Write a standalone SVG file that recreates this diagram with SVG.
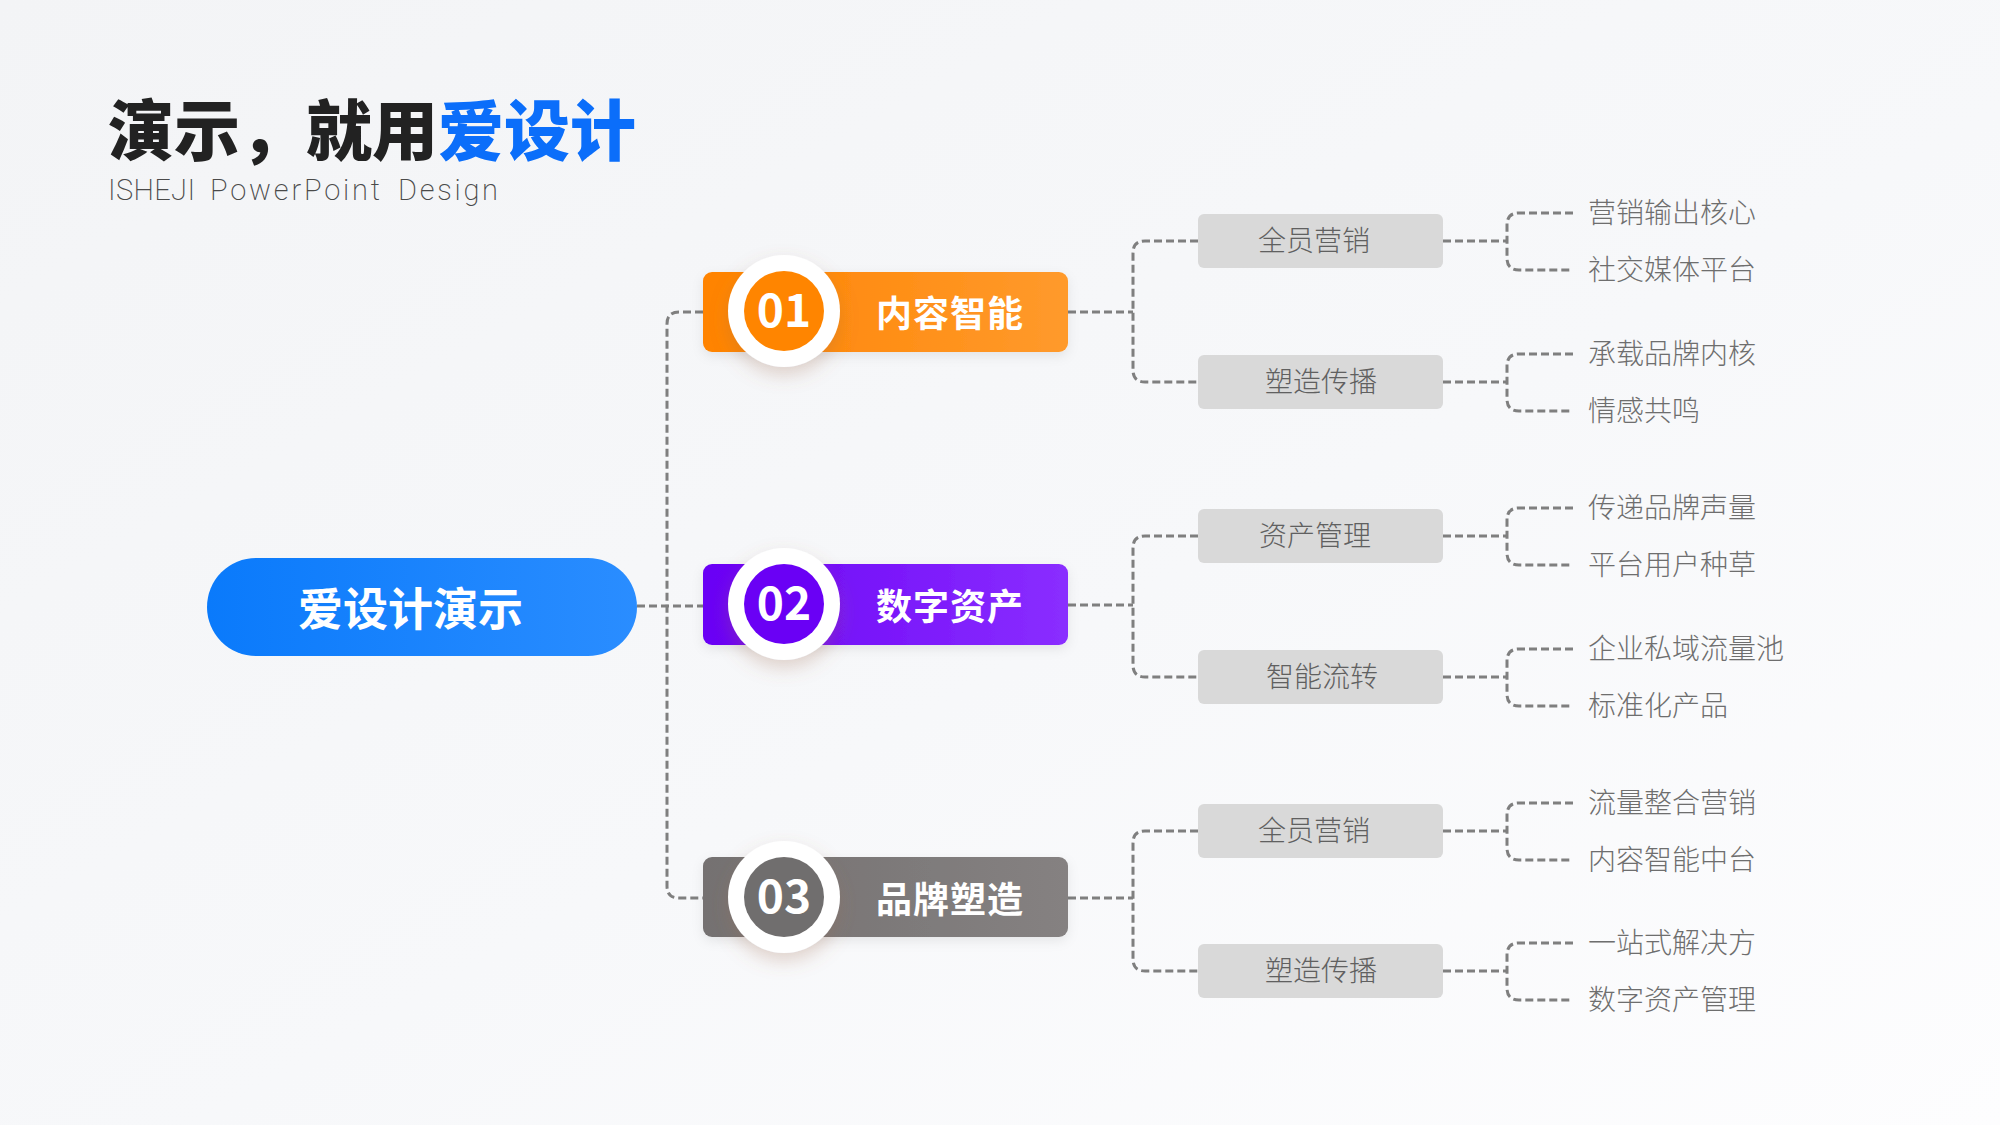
<svg xmlns="http://www.w3.org/2000/svg" width="2000" height="1125" viewBox="0 0 2000 1125">
  <defs>
    <linearGradient id="bg" x1="0" y1="0" x2="1" y2="1">
      <stop offset="0" stop-color="#F3F4F6"/>
      <stop offset="0.55" stop-color="#F7F8FA"/>
      <stop offset="1" stop-color="#FDFDFE"/>
    </linearGradient>
    <linearGradient id="gBlue" x1="0" y1="0" x2="1" y2="0">
      <stop offset="0" stop-color="#0A7AFB"/>
      <stop offset="1" stop-color="#2A8DFF"/>
    </linearGradient>
    <linearGradient id="gOrange" x1="0" y1="0" x2="1" y2="0">
      <stop offset="0" stop-color="#FF8300"/>
      <stop offset="1" stop-color="#FF9A2C"/>
    </linearGradient>
    <linearGradient id="gPurple" x1="0" y1="0" x2="1" y2="0">
      <stop offset="0" stop-color="#6A00F5"/>
      <stop offset="1" stop-color="#8A2EFF"/>
    </linearGradient>
    <linearGradient id="gGray" x1="0" y1="0" x2="1" y2="0">
      <stop offset="0" stop-color="#747171"/>
      <stop offset="1" stop-color="#858181"/>
    </linearGradient>
    <filter id="shadow" x="-50%" y="-50%" width="200%" height="200%">
      <feDropShadow dx="0" dy="8" stdDeviation="9" flood-color="#A07050" flood-opacity="0.28"/>
    </filter>
    <filter id="boxShadow" x="-20%" y="-50%" width="140%" height="200%">
      <feDropShadow dx="0" dy="4" stdDeviation="6" flood-color="#000000" flood-opacity="0.08"/>
    </filter>
  </defs>
  <style>
    .dash { fill: none; stroke: #7F7F7F; stroke-width: 3; stroke-dasharray: 8 4; }
    .cjk { font-family: "Noto Sans CJK SC", "Noto Sans", sans-serif; }
    .thin { font-family: "Noto Sans CJK SC Light", "Noto Sans CJK SC", "Noto Sans", sans-serif; }
    .title { font-size: 66px; font-weight: 900; }
    .sub { font-family: Roboto, "Liberation Sans", sans-serif; font-size: 29px; font-weight: 200; fill: #4A4A4A; }
    .rootText { font-size: 45px; font-weight: 700; fill: #FFFFFF; }
    .num { font-size: 46px; font-weight: 700; fill: #FFFFFF; text-anchor: middle; }
    .lbl { font-size: 36px; font-weight: 700; fill: #FFFFFF; letter-spacing: 1px; }
    .gbox { fill: #D9D9D9; }
    .gtxt { font-size: 28px; font-weight: 300; fill: #606060; }
    .leaf { font-size: 28px; font-weight: 300; fill: #6E6E6E; }
  </style>

  <rect x="0" y="0" width="2000" height="1125" fill="url(#bg)"/>

  <!-- Title -->
  <g id="title">
    <text class="cjk title" x="108" y="155"><tspan fill="#222222">演示，就用</tspan><tspan fill="#0B6EFA">爱设计</tspan></text>
    <text class="sub" y="200"><tspan x="108" textLength="87" lengthAdjust="spacing">ISHEJI</tspan><tspan x="210" textLength="170" lengthAdjust="spacing">PowerPoint</tspan><tspan x="398" textLength="100" lengthAdjust="spacing">Design</tspan></text>
  </g>

  <!-- Connectors -->
  <g id="connectors">
    <!-- root to level 1 -->
    <path class="dash" d="M637 606 H703"/>
    <path class="dash" d="M703 312 H679 Q667 312 667 324 V886 Q667 898 679 898 H703"/>
    <!-- level 1 to level 2 -->
    <path class="dash" d="M1068 312 H1133"/>
    <path class="dash" d="M1198 241 H1145 Q1133 241 1133 253 V370 Q1133 382 1145 382 H1198"/>
    <path class="dash" d="M1068 605 H1133"/>
    <path class="dash" d="M1198 536 H1145 Q1133 536 1133 548 V665 Q1133 677 1145 677 H1198"/>
    <path class="dash" d="M1068 898 H1133"/>
    <path class="dash" d="M1198 831 H1145 Q1133 831 1133 843 V959 Q1133 971 1145 971 H1198"/>
    <!-- level 2 to leaves -->
    <path class="dash" d="M1443 241 H1507"/>
    <path class="dash" d="M1573 213 H1519 Q1507 213 1507 225 V258 Q1507 270 1519 270 H1573"/>
    <path class="dash" d="M1443 382 H1507"/>
    <path class="dash" d="M1573 354 H1519 Q1507 354 1507 366 V399 Q1507 411 1519 411 H1573"/>
    <path class="dash" d="M1443 536 H1507"/>
    <path class="dash" d="M1573 508 H1519 Q1507 508 1507 520 V553 Q1507 565 1519 565 H1573"/>
    <path class="dash" d="M1443 677 H1507"/>
    <path class="dash" d="M1573 649 H1519 Q1507 649 1507 661 V694 Q1507 706 1519 706 H1573"/>
    <path class="dash" d="M1443 831 H1507"/>
    <path class="dash" d="M1573 803 H1519 Q1507 803 1507 815 V848 Q1507 860 1519 860 H1573"/>
    <path class="dash" d="M1443 971 H1507"/>
    <path class="dash" d="M1573 943 H1519 Q1507 943 1507 955 V988 Q1507 1000 1519 1000 H1573"/>
  </g>

  <!-- Root -->
  <g id="root">
    <rect x="207" y="558" width="430" height="98" rx="49" fill="url(#gBlue)"/>
    <text class="cjk rootText" x="298" y="626">爱设计演示</text>
  </g>

  <!-- Level 1 -->
  <g id="node01">
    <rect x="703" y="272" width="365" height="80" rx="9" fill="url(#gOrange)" filter="url(#boxShadow)"/>
    <circle cx="784" cy="311" r="56" fill="#FFFFFF" filter="url(#shadow)"/>
    <circle cx="784" cy="311" r="40" fill="#FF8500"/>
    <text class="cjk num" x="784" y="327">01</text>
    <text class="cjk lbl" x="876" y="327">内容智能</text>
  </g>
  <g id="node02">
    <rect x="703" y="564" width="365" height="81" rx="9" fill="url(#gPurple)" filter="url(#boxShadow)"/>
    <circle cx="784" cy="604" r="56" fill="#FFFFFF" filter="url(#shadow)"/>
    <circle cx="784" cy="604" r="40" fill="#6A00F5"/>
    <text class="cjk num" x="784" y="620">02</text>
    <text class="cjk lbl" x="876" y="620">数字资产</text>
  </g>
  <g id="node03">
    <rect x="703" y="857" width="365" height="80" rx="9" fill="url(#gGray)" filter="url(#boxShadow)"/>
    <circle cx="784" cy="897" r="56" fill="#FFFFFF" filter="url(#shadow)"/>
    <circle cx="784" cy="897" r="40" fill="#706E6E"/>
    <text class="cjk num" x="784" y="913">03</text>
    <text class="cjk lbl" x="876" y="913">品牌塑造</text>
  </g>

  <!-- Level 2 -->
  <g id="sub01a"><rect class="gbox" x="1198" y="214" width="245" height="54" rx="6"/><text class="thin gtxt" x="1258" y="251">全员营销</text></g>
  <g id="sub01b"><rect class="gbox" x="1198" y="355" width="245" height="54" rx="6"/><text class="thin gtxt" x="1265" y="392">塑造传播</text></g>
  <g id="sub02a"><rect class="gbox" x="1198" y="509" width="245" height="54" rx="6"/><text class="thin gtxt" x="1259" y="546">资产管理</text></g>
  <g id="sub02b"><rect class="gbox" x="1198" y="650" width="245" height="54" rx="6"/><text class="thin gtxt" x="1266" y="687">智能流转</text></g>
  <g id="sub03a"><rect class="gbox" x="1198" y="804" width="245" height="54" rx="6"/><text class="thin gtxt" x="1258" y="841">全员营销</text></g>
  <g id="sub03b"><rect class="gbox" x="1198" y="944" width="245" height="54" rx="6"/><text class="thin gtxt" x="1265" y="981">塑造传播</text></g>

  <!-- Leaves -->
  <g id="leaf1"><text class="thin leaf" x="1588" y="223">营销输出核心</text></g>
  <g id="leaf2"><text class="thin leaf" x="1588" y="280">社交媒体平台</text></g>
  <g id="leaf3"><text class="thin leaf" x="1588" y="364">承载品牌内核</text></g>
  <g id="leaf4"><text class="thin leaf" x="1588" y="421">情感共鸣</text></g>
  <g id="leaf5"><text class="thin leaf" x="1588" y="518">传递品牌声量</text></g>
  <g id="leaf6"><text class="thin leaf" x="1588" y="575">平台用户种草</text></g>
  <g id="leaf7"><text class="thin leaf" x="1588" y="659">企业私域流量池</text></g>
  <g id="leaf8"><text class="thin leaf" x="1588" y="716">标准化产品</text></g>
  <g id="leaf9"><text class="thin leaf" x="1588" y="813">流量整合营销</text></g>
  <g id="leaf10"><text class="thin leaf" x="1588" y="870">内容智能中台</text></g>
  <g id="leaf11"><text class="thin leaf" x="1588" y="953">一站式解决方</text></g>
  <g id="leaf12"><text class="thin leaf" x="1588" y="1010">数字资产管理</text></g>
</svg>
